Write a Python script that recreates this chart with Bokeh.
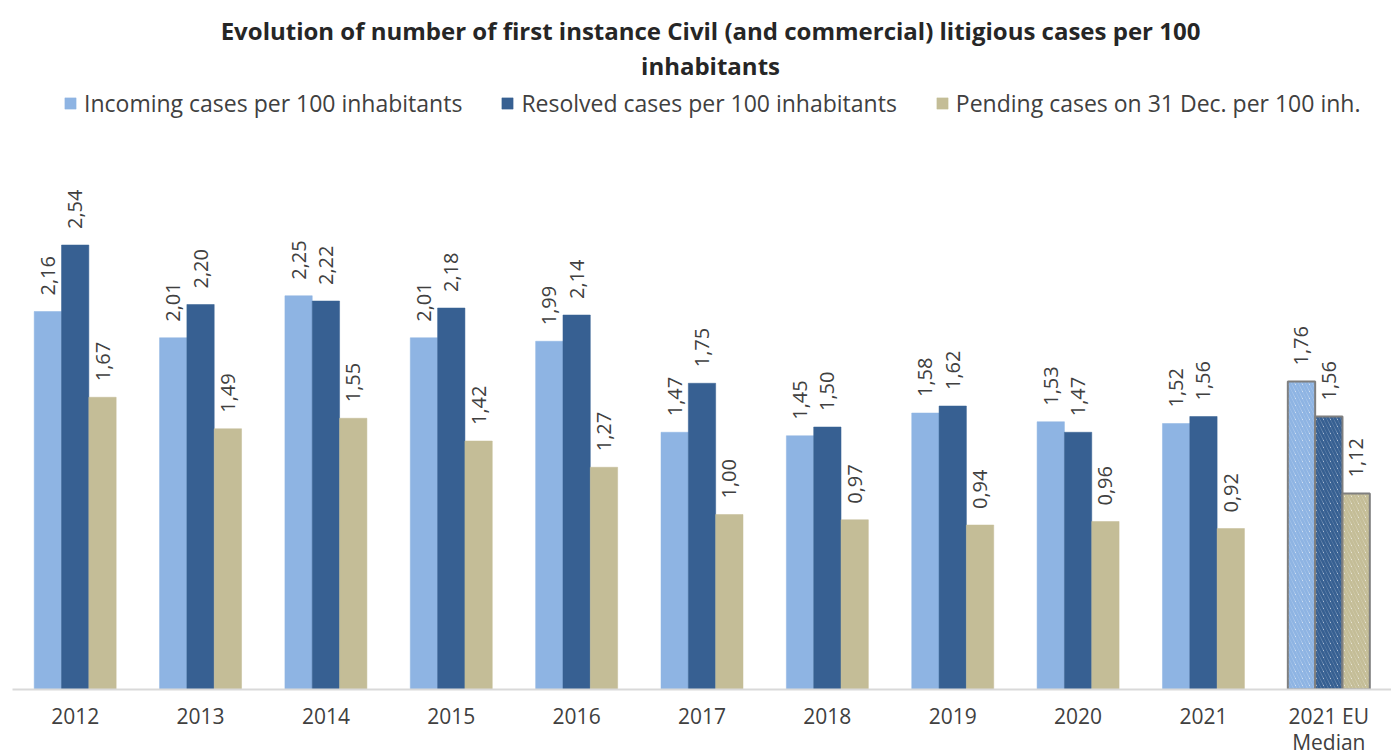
from bokeh.plotting import figure
from bokeh.models import (ColumnDataSource, Range1d, FixedTicker, Legend, LegendItem, Label)
from bokeh.core.properties import value
from bokeh.embed import file_html
from bokeh.resources import INLINE

# ---- data ----
categories = ["2012", "2013", "2014", "2015", "2016", "2017", "2018", "2019", "2020", "2021", "2021 EU\nMedian"]
incoming = [2.16, 2.01, 2.25, 2.01, 1.99, 1.47, 1.45, 1.58, 1.53, 1.52, 1.76]
resolved = [2.54, 2.20, 2.22, 2.18, 2.14, 1.75, 1.50, 1.62, 1.47, 1.56, 1.56]
pending = [1.67, 1.49, 1.55, 1.42, 1.27, 1.00, 0.97, 0.94, 0.96, 0.92, 1.12]
series_names = ["Incoming cases per 100 inhabitants",
                "Resolved cases per 100 inhabitants",
                "Pending cases on 31 Dec. per 100 inh."]
title_lines = ["Evolution of number of first instance Civil (and commercial) litigious cases per 100",
               "inhabitants"]

colors = ["#8EB4E3", "#376092", "#C4BD97"]
FONT = "Open Sans"
BAR_W = 0.218
n = len(categories)
n_years = n - 1  # last category is the EU median (hatched)

FRAME_H = 689
PX_PER_UNIT = 175.0

p = figure(frame_width=1379, frame_height=FRAME_H, output_backend="svg", toolbar_location=None,
           x_range=Range1d(-0.5, n - 0.5), y_range=Range1d(0, FRAME_H / PX_PER_UNIT),
           min_border_left=12, min_border_right=0, min_border_top=0, min_border_bottom=0)
p.outline_line_color = None
p.grid.visible = False
p.yaxis.visible = False
p.background_fill_color = "white"

xa = p.xaxis[0]
xa.ticker = FixedTicker(ticks=list(range(n)))
xa.major_label_overrides = {i: c for i, c in enumerate(categories)}
xa.major_tick_line_color = None
xa.minor_tick_line_color = None
xa.major_tick_out = 0
xa.major_tick_in = 0
xa.axis_line_color = "#D9D9D9"
xa.axis_line_width = 2
xa.major_label_text_font = FONT
xa.major_label_text_font_size = "21px"
xa.major_label_text_color = "#404040"
xa.major_label_standoff = 12
xa.major_label_text_line_height = 0.95

legend_items = []
for k, (vals, col, name) in enumerate(zip([incoming, resolved, pending], colors, series_names)):
    off = (k - 1) * BAR_W
    xs = [i + off for i in range(n)]
    labs = [f"{v:.2f}".replace(".", ",") for v in vals]
    src = ColumnDataSource(dict(x=xs[:n_years], top=vals[:n_years], lab=labs[:n_years]))
    r = p.vbar(x="x", top="top", bottom=0, width=BAR_W, source=src,
               fill_color=col, line_color=col, line_width=0.5)
    legend_items.append(LegendItem(label=name, renderers=[r]))
    # hatched EU median bar
    src_m = ColumnDataSource(dict(x=xs[n_years:], top=vals[n_years:], lab=labs[n_years:]))
    p.vbar(x="x", top="top", bottom=0, width=BAR_W, source=src_m,
           fill_color="white", line_color="#7F7F7F", line_width=2,
           hatch_pattern="\\", hatch_color=col, hatch_scale=7, hatch_weight=3)
    for s in (src, src_m):
        p.text(x="x", y="top", text="lab", source=s, angle=1.5708,
               text_align="left", text_baseline="middle", y_offset=-16,
               text_font=value(FONT), text_font_size="20px", text_color="#404040")

legend = Legend(items=legend_items, orientation="horizontal", location=(51, 570),
                padding=0, spacing=38, label_standoff=7, glyph_width=14, glyph_height=14,
                label_text_font=FONT, label_text_font_size="23px", label_text_color="#404040",
                border_line_color=None, background_fill_alpha=0)
p.add_layout(legend)

# title lines centred at page x ~710, y ~30 / ~65
for t, yy in zip(title_lines, [(FRAME_H - 30) / PX_PER_UNIT, (FRAME_H - 65) / PX_PER_UNIT]):
    p.add_layout(Label(x=(710 - 12) / 125.36 - 0.5, y=yy, text=t, text_align="center",
                       text_baseline="middle", text_font=FONT, text_font_style="bold",
                       text_font_size="24px", text_color="#262626"))

open("out.html", "w").write(file_html(p, INLINE))
